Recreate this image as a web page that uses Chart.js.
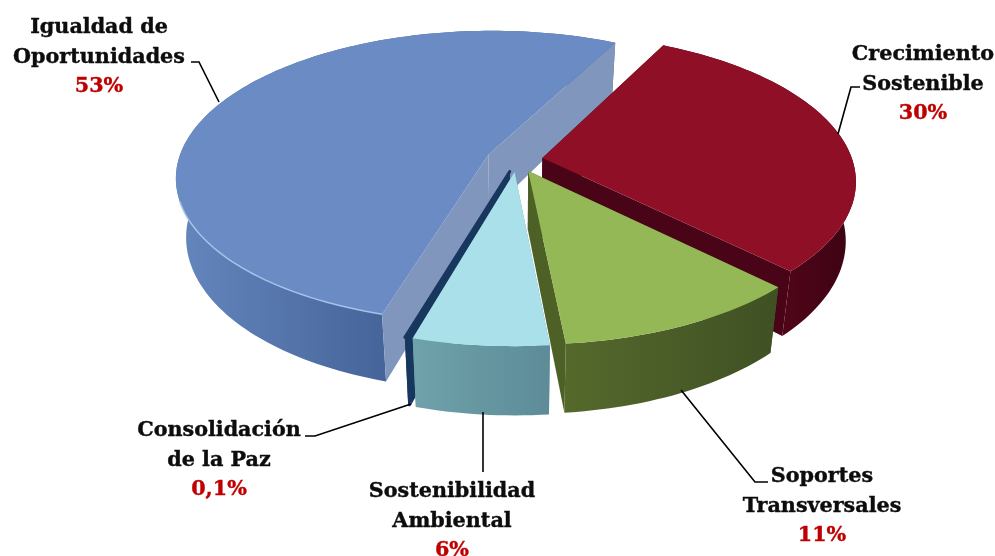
<!DOCTYPE html>
<html>
<head>
<meta charset="utf-8">
<title>Pie</title>
<script src="https://cdn.jsdelivr.net/npm/chart.js@4/dist/chart.umd.min.js"></script>
<style>
  html, body { margin: 0; padding: 0; background: #fff; }
  #wrap { width: 995px; height: 556px; }
</style>
</head>
<body>
<div id="wrap"><canvas id="pie" width="995" height="556"></canvas></div>
<script>
// data, clockwise from the top right
const categories = ["Crecimiento Sostenible", "Soportes Transversales", "Sostenibilidad Ambiental", "Consolidación de la Paz", "Igualdad de Oportunidades"];
const values = [30, 11, 6, 0.1, 53];
const valueLabels = ["30%", "11%", "6%", "0,1%", "53%"];

// colours per slice
const topColors = ["#8f1026", "#94b855", "#a9e0ea", "#17375e", "#6b8bc5"];
const edgeColors = [["#4e0518", "#3c0313"], ["#55692c", "#3f5023"], ["#6fa2aa", "#5d8c98"], ["#17375e", "#17375e"], ["#6486bd", "#46659a"]];
const innerColors = ["#4a0418", "#4d6127", "#6fa2aa", "#17375e", "#8196bd"];
const rimLights = [null, null, null, null, "#a6c1ea"];
const drawOrder = [4, 0, 1, 3, 2];

// label boxes and leader lines
const labelBoxes = [
  { x: 923, y: 60, lines: ["Crecimiento", "Sostenible"], leader: [[860, 87], [851, 87], [838, 134]] },
  { x: 822, y: 482, lines: ["Soportes", "Transversales"], leader: [[768, 482], [755, 482], [681, 390]] },
  { x: 452, y: 497, lines: ["Sostenibilidad", "Ambiental"], leader: [[483, 412], [483, 472]] },
  { x: 219, y: 436, lines: ["Consolidación", "de la Paz"], leader: [[305, 436], [315, 436], [411, 404]] },
  { x: 99, y: 33, lines: ["Igualdad de", "Oportunidades"], leader: [[191, 62], [199, 62], [219, 102]] }
];

// perspective view of the flat pie
const view = { x0: 517, y0: 160, rx: 310, ry: 144, tilt: 0.15, depth: 58, shrink: 0.03 };

function project(u, v, z) {
  const w = 1 - view.tilt * v;
  const s = 1 - view.shrink * z;
  return [view.x0 + view.rx * u * s / w, view.y0 + (view.ry * v + view.depth * z) / w];
}

function tracePoints(ctx, pts) {
  ctx.beginPath();
  pts.forEach((p, i) => i ? ctx.lineTo(p[0], p[1]) : ctx.moveTo(p[0], p[1]));
  ctx.closePath();
}

function drawSlice(ctx, arc, i) {
  const R = arc.outerRadius;
  const mid = (arc.startAngle + arc.endAngle) / 2;
  const off = arc.options.offset / R;
  const cu = Math.cos(mid) * off;
  const cv = Math.sin(mid) * off;
  const rimAt = (a, z) => project(cu + Math.cos(a), cv + Math.sin(a), z);
  const steps = Math.max(2, Math.ceil((arc.endAngle - arc.startAngle) * 40));
  const rim = [], rimLow = [], front = [];
  for (let k = 0; k <= steps; k++) {
    const a = arc.startAngle + (arc.endAngle - arc.startAngle) * k / steps;
    rim.push(rimAt(a, 0));
    rimLow.push(rimAt(a, 1));
    if (Math.sin(a) > 0.3) front.push(rim[k]);
  }
  const apex = project(cu, cv, 0);
  const apexLow = project(cu, cv, 1);

  const radialWalls = () => {
    ctx.fillStyle = innerColors[i];
    tracePoints(ctx, [apex, rim[0], rimLow[0], apexLow]);
    ctx.fill();
    tracePoints(ctx, [apex, rim[steps], rimLow[steps], apexLow]);
    ctx.fill();
  };
  const outerWall = () => {
    const xs = front.length ? front.map(p => p[0]) : rim.map(p => p[0]);
    const grad = ctx.createLinearGradient(Math.min(...xs), 0, Math.max(...xs), 0);
    grad.addColorStop(0, edgeColors[i][0]);
    grad.addColorStop(1, edgeColors[i][1]);
    ctx.fillStyle = grad;
    tracePoints(ctx, rim.concat(rimLow.slice().reverse()));
    ctx.fill();
  };

  // a slice over half a turn shows its cut faces in front of the back rim
  if (values[i] > 50) {
    outerWall();
    radialWalls();
  } else {
    radialWalls();
    outerWall();
  }

  // top face
  ctx.fillStyle = topColors[i];
  tracePoints(ctx, [apex].concat(rim));
  ctx.fill();
  if (values[i] < 1) {
    ctx.strokeStyle = topColors[i];
    ctx.lineWidth = 3;
    ctx.lineJoin = "round";
    ctx.stroke();
  }
  if (rimLights[i]) {
    ctx.strokeStyle = rimLights[i];
    ctx.lineWidth = 1.5;
    ctx.beginPath();
    front.forEach((p, k) => k ? ctx.lineTo(p[0], p[1]) : ctx.moveTo(p[0], p[1]));
    ctx.stroke();
  }
}

const pie3d = {
  id: "pie3d",
  beforeDatasetsDraw(chart) {
    const ctx = chart.ctx;
    const arcs = chart.getDatasetMeta(0).data;
    ctx.save();
    drawOrder.forEach(i => drawSlice(ctx, arcs[i], i));
    ctx.restore();
    return false;
  },
  afterDraw(chart) {
    const ctx = chart.ctx;
    ctx.save();
    ctx.strokeStyle = "#000";
    ctx.lineWidth = 1.6;
    labelBoxes.forEach(box => {
      ctx.beginPath();
      box.leader.forEach((p, k) => k ? ctx.lineTo(p[0], p[1]) : ctx.moveTo(p[0], p[1]));
      ctx.stroke();
    });
    ctx.textAlign = "center";
    ctx.textBaseline = "alphabetic";
    ctx.font = "bold 20.7px 'DejaVu Serif'";
    ctx.lineWidth = 0.4;
    labelBoxes.forEach((box, i) => {
      ctx.fillStyle = ctx.strokeStyle = "#0d0d0d";
      box.lines.forEach((t, k) => {
        ctx.fillText(t, box.x, box.y + k * 29.5);
        ctx.strokeText(t, box.x, box.y + k * 29.5);
      });
      ctx.fillStyle = ctx.strokeStyle = "#c00000";
      ctx.fillText(valueLabels[i], box.x, box.y + 59);
      ctx.strokeText(valueLabels[i], box.x, box.y + 59);
    });
    ctx.restore();
  }
};

new Chart(document.getElementById("pie"), {
  type: "pie",
  data: {
    labels: categories,
    datasets: [{
      data: values,
      backgroundColor: topColors,
      borderWidth: 0,
      offset: [22, 22, 22, 22, 26.5]
    }]
  },
  options: {
    responsive: false,
    animation: false,
    rotation: 27,
    layout: { padding: 0 },
    plugins: { legend: { display: false }, tooltip: { enabled: false } }
  },
  plugins: [pie3d]
});
</script>
</body>
</html>
